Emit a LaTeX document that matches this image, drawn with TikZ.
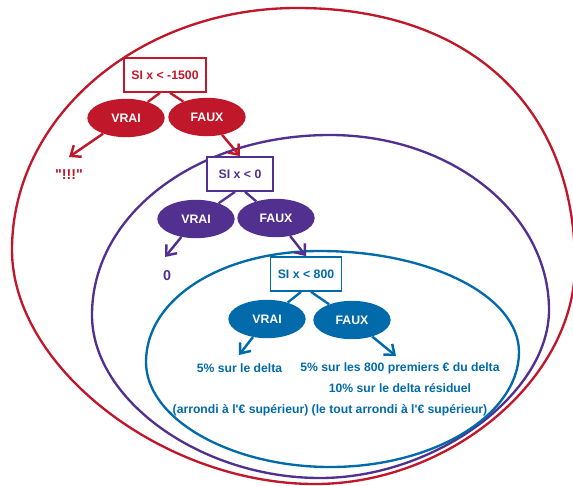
\documentclass[tikz,border=0pt]{standalone}
\usepackage{fontspec}
\setmainfont{Liberation Sans}
\usetikzlibrary{shapes.geometric, arrows.meta, positioning}
\definecolor{rouge}{HTML}{C0182A}
\definecolor{pourpre}{HTML}{52308F}
\definecolor{bleu}{HTML}{006AAA}

\begin{document}
\begin{tikzpicture}[
  x=0.03cm, y=-0.03cm,
  zone/.style={draw=#1, line width=2pt},
  cond/.style={rectangle, draw=#1, text=#1, fill=white, line width=1.2pt,
               minimum height=1.03cm, inner sep=0pt,
               font=\fontsize{10.5}{12}\selectfont\bfseries},
  choice/.style={ellipse, fill=#1, text=white, inner sep=0pt,
                 minimum width=2.32cm, minimum height=1.15cm,
                 font=\fontsize{10.5}{12}\selectfont\bfseries},
  result/.style={text=#1, inner sep=0pt,
                 font=\fontsize{10.4}{12}\selectfont\bfseries},
  big/.style={font=\fontsize{12.2}{14}\selectfont\bfseries},
  link/.style={draw=#1, line width=2pt},
  fleche/.style={draw=#1, line width=2.1pt,
                 -{Straight Barb[length=2.6mm, width=4.2mm]}}
]
  \useasboundingbox (0,0) rectangle (573,485);

  \draw[zone=rouge] (297,8) .. controls +(172,0) and +(0,-159) .. (575,265)
    .. controls +(0,114) and +(135,0) .. (315,484)
    .. controls +(-152,0) and +(0,117) .. (12,250)
    .. controls +(0,-134) and +(-157,0) .. (297,8) -- cycle;
  \draw[zone=pourpre] (330,135) .. controls +(121,0) and +(0,-97) .. (549,310)
    .. controls +(0,84) and +(115,0) .. (320,478)
    .. controls +(-119,0) and +(0,85) .. (92,315)
    .. controls +(0,-101) and +(-133,0) .. (330,135) -- cycle;
  \draw[zone=bleu] (320,251) .. controls +(110,0) and +(0,-56) .. (519,352)
    .. controls +(0,63) and +(104,0) .. (330,467)
    .. controls +(-99,0) and +(0,57) .. (146,362)
    .. controls +(0,-63) and +(-99,0) .. (320,251) -- cycle;

  \node[cond=rouge, minimum width=2.46cm] (si1) at (165,75) {SI x < -1500};
  \node[choice=rouge] (vrai1) at (126,118) {VRAI};
  \node[choice=rouge] (faux1) at (207,117) {FAUX};
  \node[result=rouge, big] (bang) at (69,175) {\textquotedbl!!!\textquotedbl};
  \coordinate (tip1) at (69,157);

  \node[cond=pourpre, minimum width=1.98cm] (si2) at (240,174) {SI x < 0};
  \node[choice=pourpre] (vrai2) at (196,219) {VRAI};
  \node[choice=pourpre] (faux2) at (276,218) {FAUX};
  \node[result=pourpre, big] (zero) at (167,276) {0};
  \coordinate (tip2) at (165,257);

  \node[cond=bleu, minimum width=2.13cm] (si3) at (306,274) {SI x < 800};
  \node[choice=bleu] (vrai3) at (267,319) {VRAI};
  \node[choice=bleu] (faux3) at (352,320) {FAUX};
  \node[result=bleu] (taux1) at (239.5,368) {5\% sur le delta};
  \node[result=bleu] (taux2) at (400,368) {5\% sur les 800 premiers € du delta};
  \node[result=bleu] (taux3) at (400,388) {10\% sur le delta résiduel};
  \node[result=bleu] (arrondi) at (330,410)
    {(arrondi à l\textquotesingle€ supérieur) (le tout arrondi à l\textquotesingle€ supérieur)};
  \coordinate (tip3) at (239,355);
  \coordinate (tip4) at (396,356);

  \draw[link=rouge] ([xshift=-0.15cm]si1.south) -- (vrai1);
  \draw[link=rouge] ([xshift=0.15cm]si1.south) -- (faux1);
  \draw[fleche=rouge] (vrai1) -- (tip1);
  \draw[fleche=rouge] (faux1) -- (si2.north);

  \draw[link=pourpre] ([xshift=-0.15cm]si2.south) -- (vrai2);
  \draw[link=pourpre] ([xshift=0.15cm]si2.south) -- (faux2);
  \draw[fleche=pourpre] (vrai2) -- (tip2);
  \draw[fleche=pourpre] (faux2) -- (si3.north);

  \draw[link=bleu] ([xshift=-0.15cm]si3.south) -- (vrai3);
  \draw[link=bleu] ([xshift=0.15cm]si3.south) -- (faux3);
  \draw[fleche=bleu] (vrai3) -- (tip3);
  \draw[fleche=bleu] (faux3) -- (tip4);

\end{tikzpicture}
\end{document}
